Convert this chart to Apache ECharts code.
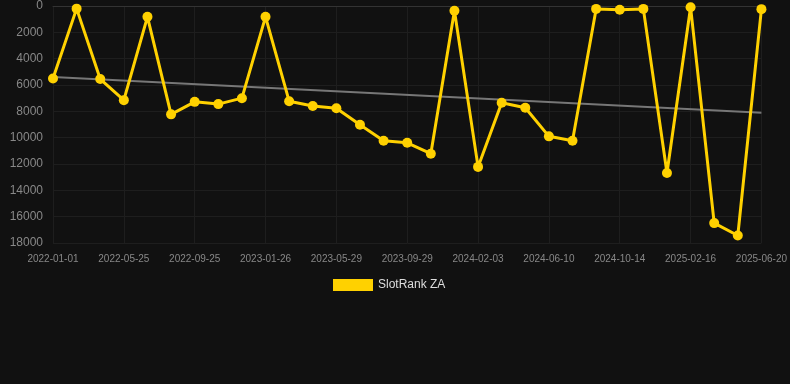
<!DOCTYPE html>
<html>
<head>
<meta charset="utf-8">
<script src="https://cdn.jsdelivr.net/npm/echarts@6/dist/echarts.min.js"></script>
<style>
html,body{margin:0;padding:0;background:#111111;}
#chart{width:790px;height:384px;}
</style>
</head>
<body>
<div id="chart"></div>
<script>
var categories = ["2022-01-01","2022-02-18","2022-04-07","2022-05-25","2022-07-05","2022-08-15","2022-09-25","2022-11-05","2022-12-16","2023-01-26","2023-03-08","2023-04-18","2023-05-29","2023-07-09","2023-08-19","2023-09-29","2023-11-10","2023-12-23","2024-02-03","2024-03-15","2024-04-28","2024-06-10","2024-07-22","2024-09-02","2024-10-14","2024-11-25","2025-01-05","2025-02-16","2025-03-29","2025-05-09","2025-06-20"];
var rankValues = [5500,200,5550,7150,820,8230,7280,7450,7000,820,7230,7600,7760,9020,10230,10390,11220,360,12220,7350,7730,9900,10230,220,280,220,12680,90,16490,17430,240];
var trendValues = [5400,null,null,null,null,null,null,null,null,null,null,null,null,null,null,null,null,null,null,null,null,null,null,null,null,null,null,null,null,null,8110];
var yTicks = {min:0, max:18000, interval:2000};
var seriesName = "SlotRank ZA";

var chart = echarts.init(document.getElementById('chart'));
chart.setOption({
  backgroundColor:'#111111',
  animation:false,
  grid:{left:53, right:28, top:6, bottom:141, containLabel:false},
  legend:{
    data:[{name:seriesName, icon:'rect'}],
    top:274, left:328,
    itemWidth:40, itemHeight:12, itemGap:10,
    textStyle:{color:'#dddddd', fontSize:12, fontFamily:'Arial, Liberation Sans, sans-serif'}
  },
  xAxis:{
    type:'category',
    data:categories,
    boundaryGap:false,
    axisLine:{show:true, lineStyle:{color:'#333333'}},
    axisTick:{show:false},
    axisLabel:{color:'#888888', fontSize:10, interval:2, margin:11, fontFamily:'Arial, Liberation Sans, sans-serif'},
    splitLine:{show:true, interval:2, lineStyle:{color:'#1e1e1e'}}
  },
  yAxis:{
    type:'value',
    inverse:true,
    min:yTicks.min, max:yTicks.max, interval:yTicks.interval,
    axisLine:{show:false},
    axisTick:{show:false},
    axisLabel:{color:'#888888', fontSize:12, margin:10, fontFamily:'Arial, Liberation Sans, sans-serif',
      formatter:function(v){return String(v);}},
    splitLine:{show:true, lineStyle:{color:'#1e1e1e'}}
  },
  series:[
    {
      name:'trend',
      type:'line',
      data:trendValues,
      connectNulls:true,
      symbol:'none',
      lineStyle:{color:'#777777', width:2},
      z:1,
      silent:true
    },
    {
      name:seriesName,
      type:'line',
      data:rankValues,
      symbol:'circle',
      symbolSize:10,
      lineStyle:{color:'#FFD100', width:3},
      itemStyle:{color:'#FFD100'},
      z:2
    }
  ]
});
</script>
</body>
</html>
